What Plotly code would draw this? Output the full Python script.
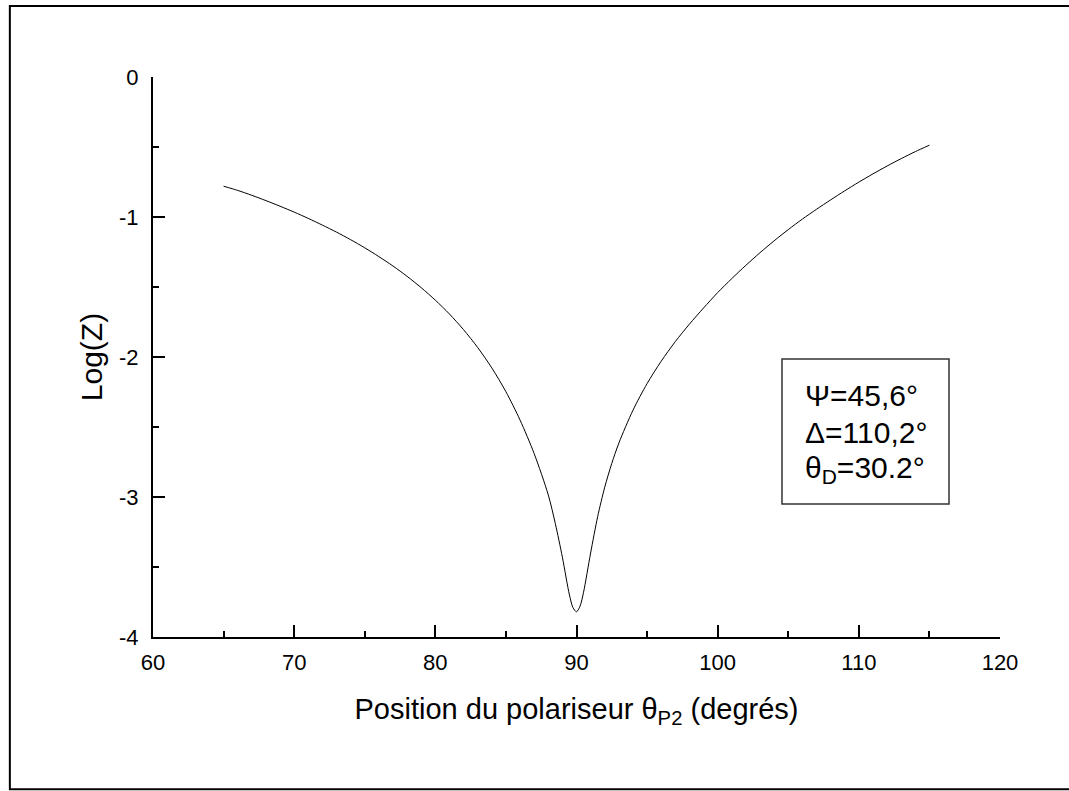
import plotly.graph_objects as go

# Polarizer position (degrees) and log10 of the measured signal
theta_p2 = [65, 66, 67, 68, 69, 70, 71, 72, 73, 74, 75, 76, 77, 78, 79, 80,
            81, 82, 83, 84, 85, 86, 87, 88, 88.5, 89, 89.5, 89.75, 90, 90.25,
            90.5, 91, 91.5, 92, 92.5, 93, 94, 95, 96, 97, 98, 99, 100, 101, 102,
            103, 104, 105, 106, 107, 108, 109, 110, 111, 112, 113, 114, 115]
log_z = [-0.78, -0.81, -0.845, -0.883, -0.923, -0.965, -1.01, -1.058, -1.108,
         -1.162, -1.22, -1.283, -1.35, -1.424, -1.505, -1.594, -1.693, -1.805,
         -1.932, -2.078, -2.248, -2.45, -2.69, -2.985, -3.19, -3.43, -3.70,
         -3.79, -3.82, -3.78, -3.68, -3.40, -3.14, -2.93, -2.76, -2.615, -2.38,
         -2.19, -2.03, -1.89, -1.765, -1.65, -1.54, -1.44, -1.345, -1.255,
         -1.17, -1.09, -1.015, -0.945, -0.878, -0.813, -0.751, -0.692, -0.636,
         -0.583, -0.533, -0.487]

x_ticks = [60, 70, 80, 90, 100, 110, 120]
y_ticks = [-4, -3, -2, -1, 0]
y_tick_text = ["-4", "-3", "-2", "-1", "0"]

# Ellipsometric parameters shown in the inset box
param_lines = ["Ψ=45,6°", "Δ=110,2°", "θ<sub>D</sub>=30.2°"]

FONT = "Liberation Sans, Arial, sans-serif"

fig = go.Figure()
fig.add_trace(go.Scatter(
    x=theta_p2, y=log_z, mode="lines",
    line=dict(color="black", width=1, shape="spline", smoothing=0.8),
    showlegend=False, hoverinfo="skip",
))

axis_common = dict(
    showline=True, linecolor="black", linewidth=2,
    ticks="inside", ticklen=12, tickwidth=2, tickcolor="black",
    showgrid=False, zeroline=False, mirror=False,
    tickfont=dict(family=FONT, size=22, color="black"),
)

fig.update_xaxes(
    range=[60, 120], tickvals=x_ticks,
    minor=dict(ticks="inside", ticklen=6, tickwidth=2, tickcolor="black", dtick=5),
    ticklabelstandoff=5,
    title=dict(text="Position du polariseur θ<sub>P2</sub> (degrés)",
               font=dict(family=FONT, size=29, color="black"), standoff=24),
    **axis_common,
)
fig.update_yaxes(
    range=[-4, 0], tickvals=y_ticks, ticktext=y_tick_text,
    minor=dict(ticks="inside", ticklen=6, tickwidth=2, tickcolor="black", dtick=0.5),
    ticklabelstandoff=8,
    title=dict(text="Log(Z)", font=dict(family=FONT, size=30, color="black"),
               standoff=8),
    **axis_common,
)

# Outer frame around the whole figure
fig.add_shape(type="rect", xref="paper", yref="paper",
              x0=-0.169, x1=1.10, y0=-0.272, y1=1.1268,
              line=dict(color="black", width=2), layer="above")

# Inset box with parameters
fig.add_shape(type="rect", xref="paper", yref="paper",
              x0=0.7426, x1=0.9398, y0=0.2375, y1=0.4964,
              line=dict(color="#333333", width=1.5))
line_y = [0.432, 0.366, 0.300]
for txt, yy in zip(param_lines, line_y):
    fig.add_annotation(text=txt, xref="paper", yref="paper", x=0.7674, y=yy,
                       xanchor="left", yanchor="middle", showarrow=False,
                       font=dict(family=FONT, size=30, color="black"))

fig.update_layout(
    width=1069, height=791,
    margin=dict(l=153, r=69, t=77, b=154),
    paper_bgcolor="white", plot_bgcolor="white",
)

fig.write_html("out.html")
